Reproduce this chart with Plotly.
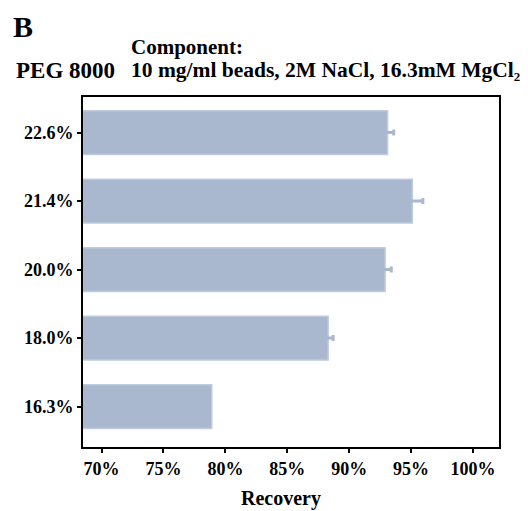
import plotly.graph_objects as go

# PEG 8000 concentrations (bottom to top) and mean recovery (%) with error
peg_levels = ["16.3%", "18.0%", "20.0%", "21.4%", "22.6%"]
recovery = [78.9, 88.3, 92.9, 95.1, 93.1]
recovery_err = [0.0, 0.4, 0.5, 0.85, 0.5]
x_tick_vals = [70, 75, 80, 85, 90, 95, 100]
x_tick_text = ["70%", "75%", "80%", "85%", "90%", "95%", "100%"]

bar_color = "#a9b8cf"
serif = "Liberation Serif, Times New Roman, serif"

fig = go.Figure()
fig.add_trace(go.Bar(
    y=peg_levels,
    x=recovery,
    orientation="h",
    width=0.64,
    marker=dict(color=bar_color, line=dict(color="#bfcbdd", width=1.5)),
    showlegend=False,
))

# Error bars only where a spread was measured
has_err = [i for i, e in enumerate(recovery_err) if e > 0]
fig.add_trace(go.Scatter(
    y=[peg_levels[i] for i in has_err],
    x=[recovery[i] for i in has_err],
    mode="markers",
    marker=dict(size=1, opacity=0),
    error_x=dict(type="data", array=[recovery_err[i] for i in has_err],
                 visible=True, color=bar_color, thickness=3, width=3),
    showlegend=False,
    hoverinfo="skip",
))

fig.update_layout(
    width=528, height=511,
    margin=dict(l=83, r=29, t=97, b=64),
    paper_bgcolor="white", plot_bgcolor="white",
    font=dict(family=serif, color="black"),
    xaxis=dict(
        range=[68.5, 102.1],
        tickvals=x_tick_vals, ticktext=x_tick_text,
        ticks="outside", ticklen=4, tickwidth=2, tickcolor="black",
        showline=True, linecolor="black", linewidth=2, mirror=True,
        showgrid=False, zeroline=False,
        tickfont=dict(family=serif, size=18, color="black", weight="bold"),
    ),
    yaxis=dict(
        range=[-0.59, 4.52],
        ticks="outside", ticklen=4, tickwidth=2, tickcolor="black",
        showline=True, linecolor="black", linewidth=2, mirror=True,
        showgrid=False, zeroline=False,
        tickfont=dict(family=serif, size=18, color="black", weight="bold"),
    ),
    annotations=[
        dict(text="<b>B</b>", x=11, y=8, showarrow=False,
             xanchor="left", yanchor="top", font=dict(family=serif, size=30)),
        dict(text="<b>Component:</b>", x=129, y=33, showarrow=False,
             xanchor="left", yanchor="top", font=dict(family=serif, size=21)),
        dict(text="<b>PEG 8000</b>", x=14, y=56, showarrow=False,
             xanchor="left", yanchor="top", font=dict(family=serif, size=23)),
        dict(text="<b>10 mg/ml beads, 2M NaCl, 16.3mM MgCl₂</b>", x=129, y=56,
             showarrow=False, xanchor="left", yanchor="top",
             font=dict(family=serif, size=21.5)),
        dict(text="<b>Recovery</b>", x=281, y=498, showarrow=False,
             xanchor="center", yanchor="middle", font=dict(family=serif, size=20)),
    ],
)

# Headings are placed in pixels; convert them to paper coordinates
plot_w = 528 - 83 - 29
plot_h = 511 - 97 - 64
for ann in fig.layout.annotations:
    px, py = ann.x, ann.y
    ann.x = (px - 83) / plot_w
    ann.y = 1 - (py - 97) / plot_h
    ann.xref = "paper"
    ann.yref = "paper"

fig.write_html("out.html")
